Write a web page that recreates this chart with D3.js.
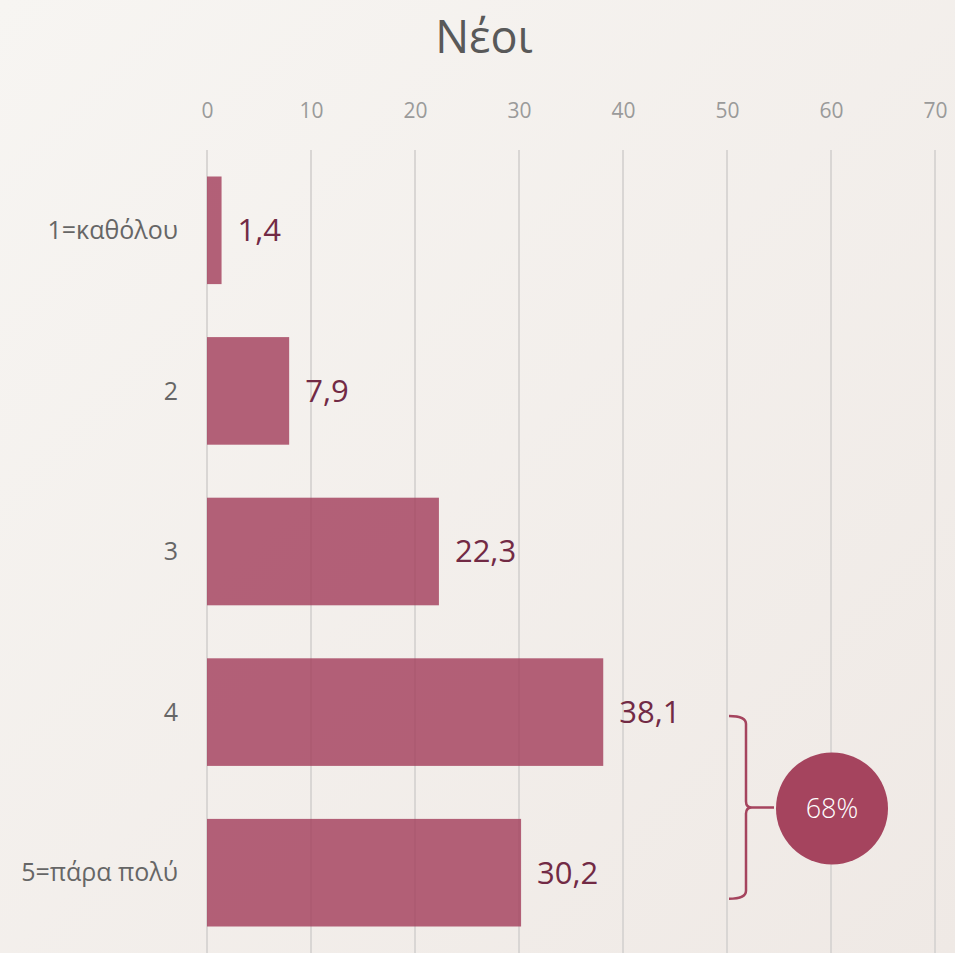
<!DOCTYPE html>
<html>
<head>
<meta charset="utf-8">
<script src="https://cdn.jsdelivr.net/npm/d3@7"></script>
<style>
  html, body { margin: 0; padding: 0; }
  body { width: 955px; height: 953px; overflow: hidden; }
</style>
</head>
<body>
<div id="chart"></div>
<script>
// data
const categories = ["1=καθόλου", "2", "3", "4", "5=πάρα πολύ"];
const values = [1.4, 7.9, 22.3, 38.1, 30.2];
const tickValues = [0, 10, 20, 30, 40, 50, 60, 70];
const title = "Νέοι";
const sumLabel = "68%";
const sumCats = ["4", "5=πάρα πολύ"];

const width = 955, height = 953;
const font = "'Open Sans', 'Noto Sans', sans-serif";

const svg = d3.select("#chart").append("svg")
  .attr("width", width)
  .attr("height", height);

// background
const defs = svg.append("defs");
const grad = defs.append("linearGradient")
  .attr("id", "bg")
  .attr("x1", "0").attr("y1", "0").attr("x2", "1").attr("y2", "1");
grad.append("stop").attr("offset", "0%").attr("stop-color", "#f7f5f2");
grad.append("stop").attr("offset", "100%").attr("stop-color", "#efe9e5");
svg.append("rect").attr("width", width).attr("height", height).attr("fill", "url(#bg)");

const x = d3.scaleLinear().domain([0, 70]).range([207, 935]);
const y = d3.scaleBand().domain(categories).range([150, 953])
  .paddingInner(0.33).paddingOuter(0.165);

// title
svg.append("text")
  .attr("x", 484).attr("y", 53)
  .attr("text-anchor", "middle")
  .attr("font-family", font)
  .attr("font-size", 45)
  .attr("fill", "#595959")
  .text(title);

// gridlines
svg.append("g").selectAll("line")
  .data(tickValues)
  .enter().append("line")
    .attr("x1", d => x(d)).attr("x2", d => x(d))
    .attr("y1", 150).attr("y2", height)
    .attr("stroke", "#d9d6d4")
    .attr("stroke-width", 2);

// top axis
const axis = svg.append("g")
  .attr("transform", "translate(0,118)")
  .call(d3.axisTop(x).tickValues(tickValues).tickSize(0).tickPadding(0));
axis.select(".domain").remove();
axis.selectAll("text")
  .attr("font-family", font)
  .attr("font-size", 21)
  .attr("fill", "#9a9a9a");

// bars
svg.append("g").selectAll("rect")
  .data(values)
  .enter().append("rect")
    .attr("x", x(0))
    .attr("y", (d, i) => y(categories[i]))
    .attr("width", d => x(d) - x(0))
    .attr("height", y.bandwidth())
    .attr("fill", "#a43f5d")
    .attr("fill-opacity", 0.82);

// value labels
svg.append("g").selectAll("text")
  .data(values)
  .enter().append("text")
    .attr("x", d => x(d) + 16)
    .attr("y", (d, i) => y(categories[i]) + y.bandwidth() / 2)
    .attr("dy", "0.35em")
    .attr("font-family", font)
    .attr("font-size", 31)
    .attr("fill", "#722a45")
    .text(d => d.toFixed(1).replace(".", ","));

// category labels
svg.append("g").selectAll("text")
  .data(categories)
  .enter().append("text")
    .attr("x", 178)
    .attr("y", d => y(d) + y.bandwidth() / 2)
    .attr("dy", "0.35em")
    .attr("text-anchor", "end")
    .attr("font-family", font)
    .attr("font-size", 25)
    .attr("fill", "#666666")
    .text(d => d);

// bracket + circle
const bTop = y(sumCats[0]) + y.bandwidth() / 2 + 4;
const bBot = y(sumCats[1]) + y.bandwidth() / 2 + 26;
const bMid = (bTop + bBot) / 2;
const bx = 729, bx2 = 746;
svg.append("path")
  .attr("d", `M${bx},${bTop} Q${bx2},${bTop} ${bx2},${bTop + 8} L${bx2},${bMid - 6} Q${bx2},${bMid} ${bx2 + 6},${bMid} L${bx2 + 28},${bMid}
              M${bx2 + 6},${bMid} Q${bx2},${bMid} ${bx2},${bMid + 6} L${bx2},${bBot - 8} Q${bx2},${bBot} ${bx},${bBot}`)
  .attr("fill", "none")
  .attr("stroke", "#a5445e")
  .attr("stroke-width", 2.5);

svg.append("circle")
  .attr("cx", 832).attr("cy", bMid + 1)
  .attr("r", 56)
  .attr("fill", "#a5445e");

svg.append("text")
  .attr("x", 832).attr("y", bMid + 1)
  .attr("dy", "0.35em")
  .attr("text-anchor", "middle")
  .attr("font-family", font)
  .attr("font-size", 27)
  .attr("font-weight", 300)
  .attr("fill", "#ffffff")
  .text(sumLabel);
</script>
</body>
</html>
